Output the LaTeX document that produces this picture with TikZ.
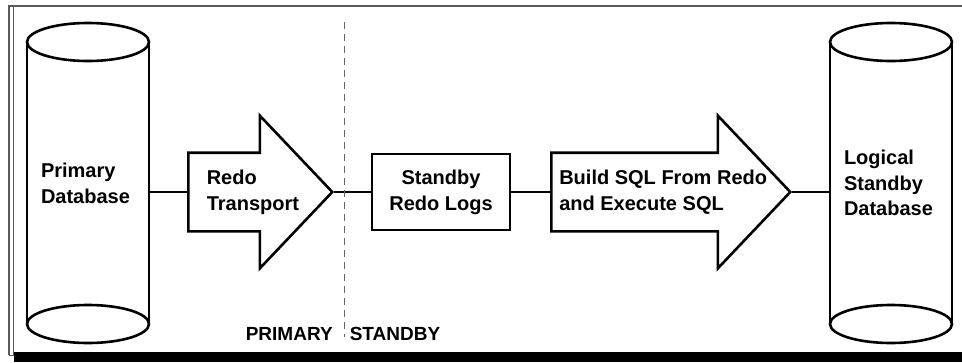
\documentclass[tikz,border=0pt]{standalone}
\usepackage{fontspec}
\setmainfont{Liberation Sans}
\usetikzlibrary{shapes.arrows,positioning}

\begin{document}
\begin{tikzpicture}[x=1pt,y=-1pt,line width=2.6pt,
  txt/.style={font=\bfseries\fontsize{20}{25.8}\selectfont,align=left,inner sep=0pt},
  drum/.style={txt,outer sep=0pt,minimum width=122pt,minimum height=282pt,inner xsep=14pt,text width=94pt},
  xfer/.style={single arrow,draw,anchor=tail,inner xsep=0pt,inner ysep=38pt,single arrow head extend=37pt,single arrow tip angle=93,single arrow head indent=0pt},
  logbox/.style={txt,draw,align=center,minimum width=138pt,minimum height=76pt},
  side/.style={font=\bfseries\fontsize{19}{22}\selectfont,inner sep=0pt},
  divider/.style={black!60,line width=1pt,dash pattern=on 7pt off 5pt}]
\useasboundingbox (0,0) rectangle (962,362);
% frame with shadow
\draw[black!65,line width=2pt] (9,355) -- (9,6) -- (962,6);
\draw[black!65,line width=0.8pt] (13,7) -- (13,355) -- (9,355);
\fill (14,352) rectangle (962,362);

\node[drum] (pdb) at (88,183) {Primary\\Database};
\node[drum] (ldb) at (891,183) {Logical\\Standby\\Database};
\foreach \db in {pdb,ldb} {
   \draw (\db.north west) -- (\db.south west) (\db.north east) -- (\db.south east);
   \draw (\db.north) ellipse [x radius=61pt,y radius=19pt]
      (\db.south) ellipse [x radius=61pt,y radius=19pt];
}

\node[xfer,minimum height=144pt] (rt) at (187,192) {};
\node[txt,anchor=west] (rtl) at ([xshift=18.5pt]rt.tail) {Redo\\Transport};
\node[logbox] (srl) at (441,192) {Standby\\Redo Logs};
\node[xfer,minimum height=239pt] (bx) at (550,192) {};
\node[txt,anchor=west] (bxl) at ([xshift=8pt]bx.tail) {Build SQL From Redo\\and Execute SQL};

\draw (pdb.east |- rt.tail) -- (rt.tail);
\draw (rt.tip) -- (rt.tip -| srl.west);
\draw (srl.east) -- (bx.tail);
\draw (bx.tip) -- (bx.tip -| ldb.west);

\coordinate (dtop) at (344.5,22);
\coordinate (dbot) at (344.5,337);
\draw[divider] (dtop) -- (dbot);
\node[side,anchor=base east] (ptag) at (334,340) {PRIMARY};
\node[side,anchor=base west] (stag) at (348.5,340) {STANDBY};
\end{tikzpicture}
\end{document}
